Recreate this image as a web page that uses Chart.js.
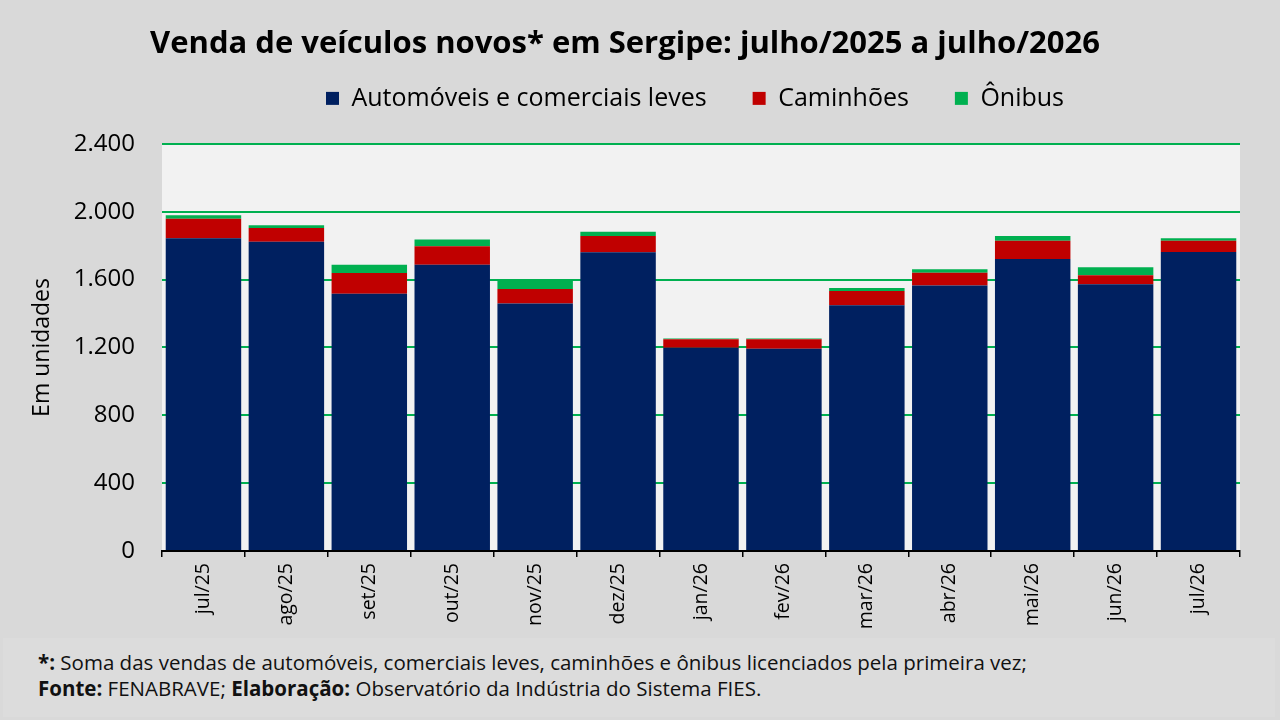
<!DOCTYPE html>
<html lang="pt-BR">
<head>
<meta charset="utf-8">
<script src="https://cdn.jsdelivr.net/npm/chart.js@4.4.1/dist/chart.umd.min.js"></script>
<style>
  html, body { margin: 0; padding: 0; background: #d9d9d9; }
  #wrap { position: relative; width: 1280px; height: 720px; overflow: hidden; }
  #foot {
    position: absolute; left: 3px; top: 638px; width: 1272px; height: 79px;
    background: #dcdcdc; font-family: "Open Sans", sans-serif; font-size: 20.5px;
    color: #111; line-height: 26px; padding: 11px 0 0 35px; box-sizing: border-box;
  }
  #foot b { font-weight: 700; }
</style>
</head>
<body>
<div id="wrap">
  <canvas id="chart" width="1280" height="720"></canvas>
  <div id="foot">
    <div><b>*:</b> Soma das vendas de automóveis, comerciais leves, caminhões e ônibus licenciados pela primeira vez;</div>
    <div><b>Fonte:</b> FENABRAVE; <b>Elaboração:</b> Observatório da Indústria do Sistema FIES.</div>
  </div>
</div>
<script>
const months = ['jul/25', 'ago/25', 'set/25', 'out/25', 'nov/25', 'dez/25',
  'jan/26', 'fev/26', 'mar/26', 'abr/26', 'mai/26', 'jun/26', 'jul/26'];
const automoveis = [1843, 1823, 1516, 1688, 1459, 1761, 1198, 1192, 1449, 1565, 1722, 1573, 1763];
const caminhoes = [116, 81, 123, 108, 86, 96, 50, 56, 84, 76, 107, 53, 66];
const onibus = [20, 16, 49, 41, 59, 25, 5, 5, 18, 20, 28, 47, 14];

const FONT = '"Open Sans", sans-serif';

// fundo cinza claro da área de plotagem
const plotBg = {
  id: 'plotBg',
  beforeDraw(chart) {
    const { ctx, chartArea: a } = chart;
    ctx.save();
    ctx.fillStyle = '#f2f2f2';
    ctx.fillRect(a.left, a.top, a.right - a.left, a.bottom - a.top);
    ctx.restore();
  }
};

// desloca a legenda para a posição do original
const moveLegend = {
  id: 'moveLegend',
  afterLayout(chart) {
    const lg = chart.legend;
    lg.top -= 23; lg.bottom -= 23;
    lg.left += 70; lg.right += 70;
  }
};

const fmt = v => String(v).replace(/\B(?=(\d{3})+(?!\d))/g, '.');

new Chart(document.getElementById('chart'), {
  type: 'bar',
  data: {
    labels: months,
    datasets: [
      { label: 'Automóveis e comerciais leves', data: automoveis, backgroundColor: '#002060' },
      { label: 'Caminhões', data: caminhoes, backgroundColor: '#c00000' },
      { label: 'Ônibus', data: onibus, backgroundColor: '#00b050' }
    ]
  },
  options: {
    responsive: false,
    animation: false,
    datasets: { bar: { barPercentage: 0.91, categoryPercentage: 1 } },
    layout: { padding: { left: 10, right: 40, top: 0, bottom: 80 } },
    plugins: {
      title: {
        display: true,
        text: 'Venda de veículos novos* em Sergipe: julho/2025 a julho/2026',
        color: '#000',
        font: { family: FONT, size: 31, weight: 'bold', lineHeight: 1.19 },
        padding: { top: 26, bottom: 0 }
      },
      legend: {
        display: true,
        labels: {
          color: '#000',
          font: { family: FONT, size: 25 },
          boxWidth: 13, boxHeight: 13,
          padding: 46
        }
      },
      tooltip: { enabled: false }
    },
    scales: {
      x: {
        stacked: true,
        afterFit: s => { s.height = 89; },
        grid: { display: true, drawOnChartArea: false, drawTicks: true, tickLength: 6, color: '#000', lineWidth: 1.5 },
        border: { display: true, color: '#000', width: 2 },
        ticks: { color: '#000', font: { family: FONT, size: 19.5 }, minRotation: 90, maxRotation: 90, padding: 6 }
      },
      y: {
        stacked: true,
        min: 0, max: 2400,
        afterFit: s => { s.width = 152; },
        grid: { color: '#00b050', lineWidth: 2, drawTicks: false },
        border: { display: false },
        ticks: { stepSize: 400, color: '#000', font: { family: FONT, size: 24 }, padding: 27, callback: fmt },
        title: {
          display: true, text: 'Em unidades', color: '#000',
          font: { family: FONT, size: 23 }, padding: { top: 19, bottom: 0 }
        }
      }
    }
  },
  plugins: [plotBg, moveLegend]
});
</script>
</body>
</html>
